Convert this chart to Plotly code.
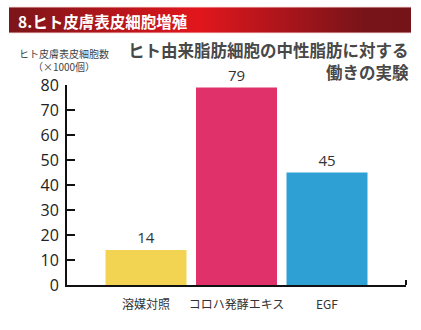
import base64
import plotly.graph_objects as go

categories = ["溶媒対照", "コロハ発酵エキス", "EGF"]
values = [14, 79, 45]
bar_colors = ["#F3D452", "#E0316A", "#2EA0D3"]
y_ticks = [0, 10, 20, 30, 40, 50, 60, 70, 80]

header_text = "8.ヒト皮膚表皮細胞増殖"
title_lines = ["ヒト由来脂肪細胞の中性脂肪に対する", "働きの実験"]
ytitle_lines = ["ヒト皮膚表皮細胞数", "（×1000個）"]

W, H = 421, 330
ML, MR, MT, MB = 67, 15, 85, 45
PW, PH = W - ML - MR, H - MT - MB


def px(x):
    return (x - ML) / PW


def py(y):
    return (H - MB - y) / PH


xs = list(range(len(categories)))

fig = go.Figure()
fig.add_trace(go.Bar(
    x=xs, y=values, width=0.895,
    marker=dict(color=bar_colors, line=dict(width=0)),
    text=[str(v) for v in values], textposition="outside",
    textfont=dict(size=15, color="#333333", family="Open Sans, Arial, sans-serif"),
    cliponaxis=False,
))

svg = ("<svg xmlns='http://www.w3.org/2000/svg' width='402' height='27' preserveAspectRatio='none'>"
       "<defs><linearGradient id='g' x1='0' y1='0' x2='1' y2='0'>"
       "<stop offset='0' stop-color='#7b1519'/>"
       "<stop offset='0.47' stop-color='#e2161d'/>"
       "<stop offset='0.88' stop-color='#781419'/>"
       "<stop offset='1' stop-color='#741418'/>"
       "</linearGradient></defs>"
       "<rect x='0' y='0' width='402' height='27' fill='#f2c9cb'/>"
       "<rect x='0' y='1' width='402' height='25' fill='url(#g)'/></svg>")
src = "data:image/svg+xml;base64," + base64.b64encode(svg.encode()).decode()

fig.update_layout(
    width=W, height=H,
    margin=dict(l=ML, r=MR, t=MT, b=MB),
    paper_bgcolor="white", plot_bgcolor="white",
    showlegend=False,
    font=dict(family="Noto Sans CJK JP, Noto Sans, sans-serif", color="#333333"),
    images=[dict(source=src, xref="paper", yref="paper",
                 x=px(9), y=py(6.5), sizex=402 / PW, sizey=27 / PH,
                 xanchor="left", yanchor="top", sizing="stretch", layer="below")],
    xaxis=dict(
        range=[-0.873, 2.873], tickvals=xs, ticktext=categories,
        showline=True, linecolor="#111111", linewidth=2,
        ticks="", showgrid=False, zeroline=False, fixedrange=True,
        tickfont=dict(size=12, color="#333333", family="Noto Sans CJK JP, sans-serif"),
        ticklabelstandoff=8,
    ),
    yaxis=dict(
        range=[0, 80], tickvals=y_ticks,
        showline=True, linecolor="#111111", linewidth=2,
        ticks="inside", ticklen=8, tickwidth=1.5, tickcolor="#111111",
        showgrid=False, zeroline=False, fixedrange=True,
        tickfont=dict(size=16, color="#222222", family="Open Sans, Arial, sans-serif"),
        ticklabelstandoff=3,
    ),
)

fig.add_shape(type="line", xref="paper", yref="paper",
              x0=1, x1=1, y0=0, y1=py(280), line=dict(color="#111111", width=2))

fig.add_annotation(text=header_text, xref="paper", yref="paper",
                   x=px(16), y=py(21), xanchor="left", yanchor="middle", showarrow=False,
                   font=dict(size=15.5, color="white", weight=700,
                             family="Noto Sans CJK JP, sans-serif"))

for line, yc in zip(title_lines, [50, 72]):
    fig.add_annotation(text=line, xref="paper", yref="paper",
                       x=px(411), y=py(yc), xanchor="right", yanchor="middle",
                       showarrow=False,
                       font=dict(size=16.5, color="#484848", weight=700,
                                 family="Noto Sans CJK JP, sans-serif"))

fig.add_annotation(text="<br>".join(ytitle_lines), xref="paper", yref="paper",
                   x=px(64), y=py(60), xanchor="center", yanchor="middle",
                   align="center", showarrow=False, borderpad=0,
                   font=dict(size=10, color="#444444",
                             family="Noto Sans CJK JP, sans-serif"))

fig.write_html("out.html")
